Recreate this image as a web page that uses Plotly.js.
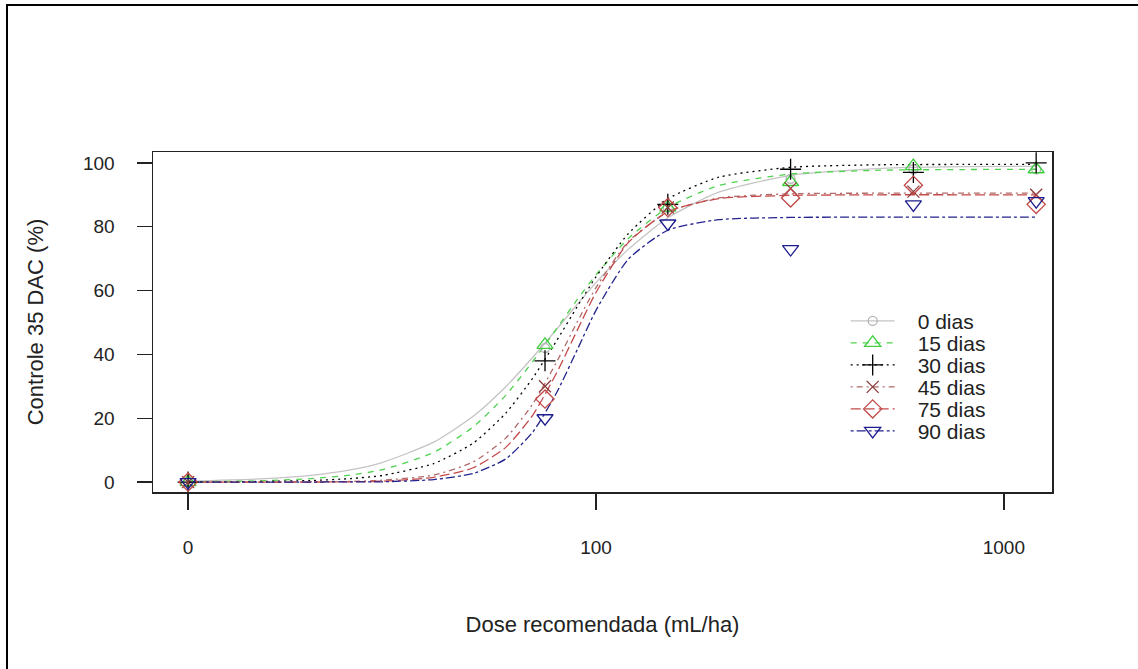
<!DOCTYPE html>
<html>
<head>
<meta charset="utf-8">
<script src="https://cdn.plot.ly/plotly-3.0.1.min.js"></script>
<style>html,body{margin:0;padding:0;background:#fff;}#chart{width:1138px;height:669px;}</style>
</head>
<body>
<div id="chart"></div>
<script>
// ---- data ----
var seriesNames = ["0 dias", "15 dias", "30 dias", "45 dias", "75 dias", "90 dias"];
var doses = [0, 75, 150, 300, 600, 1200];            // observed doses (mL/ha)
var zeroDosePosition = 10;                           // where dose 0 is drawn on the log axis
var obs0  = [0, 42, 86, 95, 98, 98];
var obs15 = [0, 43, 86, 94, 99, 98];
var obs30 = [0, 38, 87, 98, 97, 100];
var obs45 = [0, 30, 86, 92, 91, 90];
var obs75 = [0, 26, 86, 89, 93, 87];
var obs90 = [0, 20, 81, 73, 87, 88];

// fitted curves
var curveDoses = [10, 15, 20, 25, 30, 40, 50, 60, 70, 80, 90, 100, 120, 150, 200, 300, 500, 800, 1200];
var fit0  = [0.3, 1.0, 2.1, 3.8, 6.2, 12.5, 20.6, 29.8, 39.1, 47.8, 55.7, 62.5, 72.9, 82.8, 90.8, 96.1, 98.3, 98.8, 98.9];
var fit15 = [0.1, 0.4, 1.1, 2.2, 3.9, 9.3, 17.3, 27.1, 37.8, 48.0, 57.2, 64.9, 76.3, 86.0, 92.9, 96.5, 97.7, 97.9, 98.0];
var fit30 = [0.0, 0.2, 0.5, 1.1, 2.1, 5.8, 12.2, 21.5, 32.6, 44.2, 55.0, 64.3, 77.8, 88.7, 95.5, 98.6, 99.4, 99.5, 99.5];
var fit45 = [0.0, 0.0, 0.1, 0.2, 0.6, 2.2, 6.3, 13.7, 24.5, 37.5, 50.2, 60.9, 75.3, 84.6, 89.0, 90.3, 90.5, 90.5, 90.5];
var fit75 = [0.0, 0.0, 0.0, 0.1, 0.3, 1.5, 4.5, 10.8, 21.0, 34.1, 47.6, 59.4, 75.0, 84.7, 88.8, 89.8, 90.0, 90.0, 90.0];
var fit90 = [0.0, 0.0, 0.0, 0.1, 0.1, 0.8, 2.7, 7.2, 15.7, 27.9, 41.5, 53.8, 69.8, 78.9, 82.2, 82.9, 83.0, 83.0, 83.0];

var xTickVals = [10, 100, 1000];
var xTickText = ["0", "100", "1000"];
var yTickVals = [0, 20, 40, 60, 80, 100];

// ---- styles ----
var obsAll = [obs0, obs15, obs30, obs45, obs75, obs90];
var fitAll = [fit0, fit15, fit30, fit45, fit75, fit90];
var colors = ["#b4b4b4", "#3fcf3f", "#000000", "#8b3a3a", "#c04848", "#1c1c8c"];
var lineColors = ["#c4c4c4", "#4fd24f", "#000000", "#b06a6a", "#c44a4a", "#23238f"];
var dashes = ["solid", "6px,6px", "2px,4px", "2px,4px,6px,4px", "10px,4px", "3px,3px,9px,3px"];
var symbols = ["circle-open", "triangle-up-open", "cross-thin-open", "x-thin-open", "diamond-open", "triangle-down-open"];
var sizes = [9, 14, 15, 12, 14, 14];

var xPlot = doses.map(function (d) { return d === 0 ? zeroDosePosition : d; });
// interleave gaps so observed points are not joined on the plot, while the legend still shows line + marker
function withGaps(arr) {
  var out = [];
  arr.forEach(function (v, k) { if (k > 0) out.push(null); out.push(v); });
  return out;
}

var traces = [];
for (var i = 0; i < seriesNames.length; i++) {
  traces.push({
    x: curveDoses, y: fitAll[i], type: "scatter", mode: "lines",
    name: seriesNames[i], showlegend: false,
    line: {color: lineColors[i], width: 1.3, dash: dashes[i], shape: "spline", smoothing: 0.6},
    hoverinfo: "skip"
  });
}
for (var j = 0; j < seriesNames.length; j++) {
  traces.push({
    x: withGaps(xPlot), y: withGaps(obsAll[j]), type: "scatter", mode: "lines+markers",
    connectgaps: false,
    name: seriesNames[j],
    line: {color: lineColors[j], width: 1.3, dash: dashes[j]},
    marker: {symbol: symbols[j], size: sizes[j], color: colors[j], line: {color: colors[j], width: 1.3}}
  });
}

var font = "Liberation Sans, Arial, sans-serif";
var layout = {
  width: 1138, height: 669,
  paper_bgcolor: "#ffffff", plot_bgcolor: "#ffffff",
  margin: {l: 153, r: 86, t: 152, b: 177},
  showlegend: true,
  font: {family: font, size: 20, color: "#222"},
  xaxis: {
    type: "log", range: [0.914, 3.118],
    tickvals: xTickVals, ticktext: xTickText,
    tickfont: {size: 19},
    ticks: "outside", ticklen: 16, tickwidth: 1.3, tickcolor: "#222",
    showline: true, mirror: true, linecolor: "#222", linewidth: 1.5,
    showgrid: false, zeroline: false,
    ticklabelstandoff: 22,
    automargin: true,
    title: {text: "Dose recomendada (mL/ha)", font: {size: 22, family: font, color: "#222"}, standoff: 59}
  },
  yaxis: {
    range: [-3.1, 103.4],
    tickvals: yTickVals,
    tickfont: {size: 19},
    ticks: "outside", ticklen: 15, tickwidth: 1.3, tickcolor: "#222",
    showline: true, mirror: true, linecolor: "#222", linewidth: 1.5,
    showgrid: false, zeroline: false,
    ticklabelstandoff: 18,
    automargin: true,
    title: {text: "Controle 35 DAC (%)", font: {size: 22, family: font, color: "#222"}, standoff: 33}
  },
  legend: {
    x: 0.7705, y: 0.5625, xanchor: "left", yanchor: "top",
    bgcolor: "rgba(0,0,0,0)", borderwidth: 0,
    font: {size: 21, family: font, color: "#222"},
    itemwidth: 44, tracegroupgap: 0
  },
  shapes: [{
    type: "rect", xref: "paper", yref: "paper",
    x0: -0.1624, x1: 1.5, y0: -1.0, y1: 1.432,
    line: {color: "#000", width: 2}, fillcolor: "rgba(0,0,0,0)", layer: "above"
  }]
};

Plotly.newPlot("chart", traces, layout, {displayModeBar: false, staticPlot: true}).then(function (gd) {
  // match the reference legend: 22 px per row and a wider gap before the labels
  gd.querySelectorAll(".legend [clip-path]").forEach(function (el) { el.removeAttribute("clip-path"); });
  var rows = gd.querySelectorAll(".legend .traces");
  var first = null;
  rows.forEach(function (g, k) {
    var m = /translate\(([-\d.]+)[ ,]+([-\d.]+)\)/.exec(g.getAttribute("transform") || "");
    if (!m) return;
    if (first === null) first = parseFloat(m[2]);
    g.setAttribute("transform", "translate(" + m[1] + "," + (first + k * 22) + ")");
    var t = g.querySelector(".legendtext");
    if (t) t.setAttribute("x", String(parseFloat(t.getAttribute("x") || "0") + 18));
  });
  var bg = gd.querySelector(".legend .bg");
  if (bg) bg.setAttribute("height", String(rows.length * 22 + 10));
});
</script>
</body>
</html>
